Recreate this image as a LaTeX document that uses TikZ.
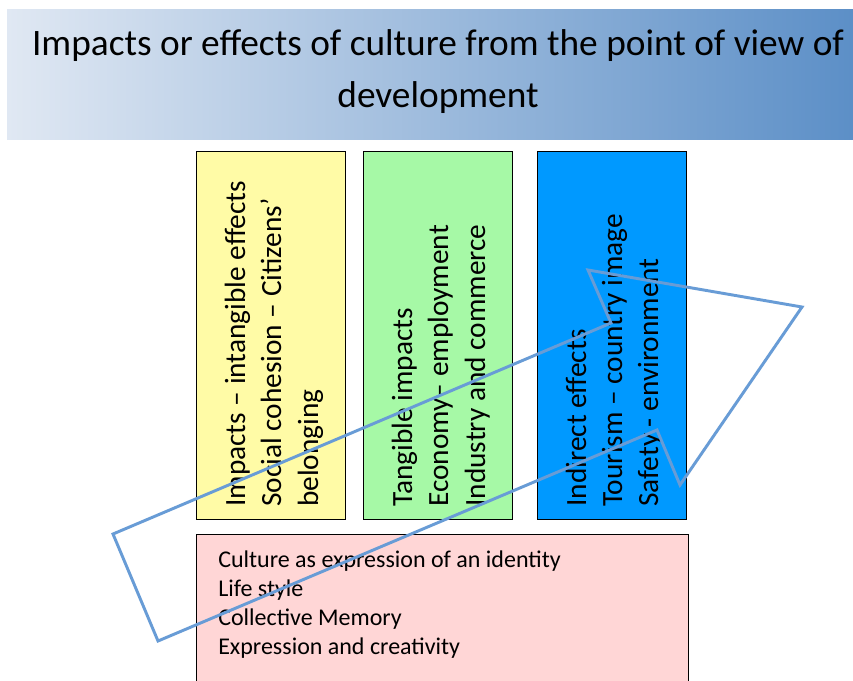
\documentclass[tikz,border=0pt]{standalone}
\usepackage{fontspec}
\setmainfont{Carlito}
\definecolor{bandL}{RGB}{224,232,243}
\definecolor{bandR}{RGB}{92,143,199}
\definecolor{yel}{RGB}{255,251,166}
\definecolor{grn}{RGB}{166,249,166}
\definecolor{blu}{RGB}{0,153,255}
\definecolor{pnk}{RGB}{255,214,214}
\definecolor{arr}{RGB}{104,156,214}
\begin{document}
\begin{tikzpicture}[x=0.75pt,y=-0.75pt,
  box/.style={draw=black, line width=1.1pt, inner sep=0pt, anchor=north west},
  vtext/.style={rotate=90, anchor=base west, inner sep=0pt, font=\fontsize{22}{27}\selectfont},
  ptext/.style={anchor=base west, inner sep=0pt, font=\fontsize{18}{22}\selectfont},
  ttext/.style={anchor=base, inner sep=0pt, font=\fontsize{28}{34}\selectfont}]
\clip (0,0) rectangle (853,681);
\fill[white] (0,0) rectangle (853,681);
% title band
\shade[left color=bandL, right color=bandR] (7,10) rectangle (853,140);
\node[ttext] (t1) at (438,56) {Impacts or effects of culture from the point of view of};
\node[ttext] (t2) at (438,108) {development};
% boxes
\node[box, fill=yel, minimum width=111.75pt, minimum height=276pt] (b1) at (196,151) {};
\node[box, fill=grn, minimum width=111.75pt, minimum height=276pt] (b2) at (363,151) {};
\node[box, fill=blu, minimum width=111.75pt, minimum height=276pt] (b3) at (537,151) {};
\node[box, fill=pnk, minimum width=369pt, minimum height=130pt] (b4) at (196,534) {};
% box 1 text
\node[vtext] (a1) at (245,507) {Impacts – intangible effects};
\node[vtext] (a2) at (281,507) {Social cohesion – Citizens’};
\node[vtext] (a3) at (318,507) {belonging};
% box 2 text
\node[vtext] (c1) at (412,507) {Tangible impacts};
\node[vtext] (c2) at (448,507) {Economy– employment};
\node[vtext] (c3) at (485,507) {Industry and commerce};
% box 3 text
\node[vtext] (d1) at (586,507) {Indirect effects};
\node[vtext] (d2) at (622,507) {Tourism – country image};
\node[vtext] (d3) at (658,507) {Safety - environment};
% pink text
\node[ptext] (p1) at (218,567) {Culture as expression of an identity};
\node[ptext] (p2) at (218,596) {Life style};
\node[ptext] (p3) at (218,625) {Collective Memory};
\node[ptext] (p4) at (218,654) {Expression and creativity};
% arrow outline
\draw[arr, line width=2.2pt, line join=miter]
  (113,534) -- (611,323) -- (588,270) -- (802,307) -- (680,485) -- (657,430) -- (158,641) -- cycle;
\end{tikzpicture}
\end{document}
